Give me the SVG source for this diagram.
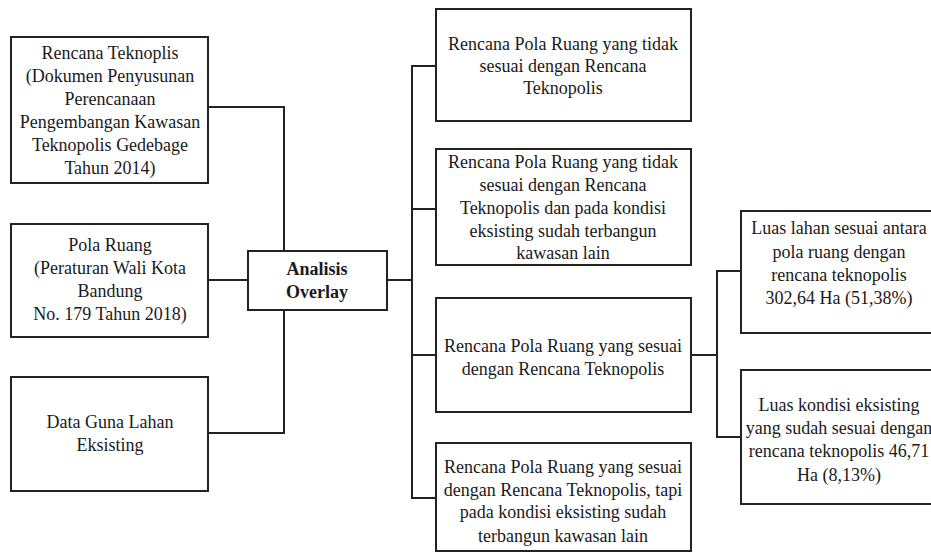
<svg xmlns="http://www.w3.org/2000/svg" width="931" height="556" viewBox="0 0 931 556">
<style>
.box{fill:#fff;stroke:#222;stroke-width:2}
.c{fill:none;stroke:#222;stroke-width:2}
.t text{fill:#1a1a1a;text-anchor:middle}
</style>
<rect width="931" height="556" fill="#fff"/>
<g id="connectors">
<polyline class="c" points="208,107 284,107 284,251"/>
<line class="c" x1="208" y1="280" x2="248" y2="280"/>
<polyline class="c" points="208,433 284,433 284,310"/>
<line class="c" x1="387" y1="280" x2="412" y2="280"/>
<line class="c" x1="412" y1="66" x2="412" y2="499"/>
<line class="c" x1="411" y1="66" x2="436" y2="66"/>
<line class="c" x1="412" y1="209" x2="436" y2="209"/>
<line class="c" x1="412" y1="355" x2="436" y2="355"/>
<line class="c" x1="411" y1="498" x2="436" y2="498"/>
<line class="c" x1="691" y1="355" x2="717" y2="355"/>
<line class="c" x1="717" y1="271" x2="717" y2="437"/>
<line class="c" x1="716" y1="271" x2="741" y2="271"/>
<line class="c" x1="716" y1="437" x2="741" y2="437"/>
</g>
<g class="t" font-family="'Liberation Serif', serif" font-size="18">
<g id="n1"><rect class="box" x="11" y="37" width="197" height="146"/>
<text x="110" y="59">Rencana Teknoplis</text>
<text x="110" y="82">(Dokumen Penyusunan</text>
<text x="110" y="105">Perencanaan</text>
<text x="110" y="128">Pengembangan Kawasan</text>
<text x="110" y="151">Teknopolis Gedebage</text>
<text x="110" y="174">Tahun 2014)</text></g>
<g id="n2"><rect class="box" x="11" y="224" width="197" height="113"/>
<text x="110" y="251">Pola Ruang</text>
<text x="110" y="274">(Peraturan Wali Kota</text>
<text x="110" y="297">Bandung</text>
<text x="110" y="320">No. 179 Tahun 2018)</text></g>
<g id="n3"><rect class="box" x="11" y="377" width="197" height="114"/>
<text x="110" y="428">Data Guna Lahan</text>
<text x="110" y="451">Eksisting</text></g>
<g id="n4"><rect class="box" x="248" y="251" width="139" height="59"/>
<text font-weight="bold" x="317" y="275">Analisis</text>
<text font-weight="bold" x="317" y="298">Overlay</text></g>
<g id="n5"><rect class="box" x="436" y="9" width="255" height="112"/>
<text x="563" y="50">Rencana Pola Ruang yang tidak</text>
<text x="563" y="72">sesuai dengan Rencana</text>
<text x="563" y="94">Teknopolis</text></g>
<g id="n6"><rect class="box" x="436" y="149" width="255" height="116"/>
<text x="563" y="168">Rencana Pola Ruang yang tidak</text>
<text x="563" y="191">sesuai dengan Rencana</text>
<text x="563" y="214">Teknopolis dan pada kondisi</text>
<text x="563" y="237">eksisting sudah terbangun</text>
<text x="563" y="259">kawasan lain</text></g>
<g id="n7"><rect class="box" x="436" y="298" width="255" height="114"/>
<text x="563" y="352">Rencana Pola Ruang yang sesuai</text>
<text x="563" y="375">dengan Rencana Teknopolis</text></g>
<g id="n8"><rect class="box" x="436" y="443" width="255" height="108"/>
<text x="563" y="473">Rencana Pola Ruang yang sesuai</text>
<text x="563" y="496">dengan Rencana Teknopolis, tapi</text>
<text x="563" y="518">pada kondisi eksisting sudah</text>
<text x="563" y="542">terbangun kawasan lain</text></g>
<g id="n9"><rect class="box" x="741" y="211" width="200" height="122"/>
<text x="839" y="234">Luas lahan sesuai antara</text>
<text x="839" y="258">pola ruang dengan</text>
<text x="839" y="281">rencana teknopolis</text>
<text x="839" y="304">302,64 Ha (51,38%)</text></g>
<g id="n10"><rect class="box" x="741" y="370" width="200" height="134"/>
<text x="839" y="411">Luas kondisi eksisting</text>
<text x="839" y="434">yang sudah sesuai dengan</text>
<text x="839" y="457">rencana teknopolis 46,71</text>
<text x="839" y="481">Ha (8,13%)</text></g>
</g>
</svg>
